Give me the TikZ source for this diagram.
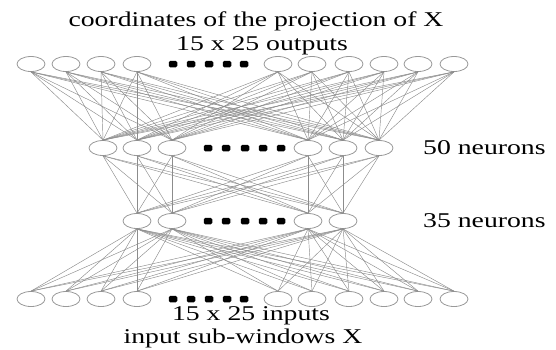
\documentclass[tikz,border=0pt]{standalone}
\usepackage{fontspec}
\setmainfont{Liberation Serif}
\usetikzlibrary{shapes.geometric}
\begin{document}
\begin{tikzpicture}[x=1pt,y=-1pt,
  neuron/.style={ellipse,draw=black!40,line width=0.8pt,minimum width=28pt,minimum height=15pt,inner sep=0pt},
  conn/.style={draw=black!45,line width=0.45pt},
  dotmark/.style={rectangle,rounded corners=1.5pt,fill=black,minimum width=8.5pt,minimum height=6.5pt,inner sep=0pt},
  lbl/.style={font=\fontsize{21}{23}\selectfont,inner sep=0pt,text=black}]
\useasboundingbox (0,0) rectangle (556,349);
% layers
\foreach \x [count=\i] in {31,66,101,137,278,312,349,384,418,454} {
  \node[neuron] (t\i) at (\x,64) {};
  \node[neuron] (b\i) at (\x,299) {};
}
\foreach \x [count=\i] in {103,137,172,308,343,379} {
  \node[neuron] (m\i) at (\x,148) {};
}
\foreach \x [count=\i] in {137,172,308,343} {
  \node[neuron] (n\i) at (\x,221) {};
}
% dots
\foreach \x [count=\i] in {173,191,209,227,244} {
  \node[dotmark] (dt\i) at (\x,64) {};
  \node[dotmark] (db\i) at (\x,299) {};
}
\foreach \x [count=\i] in {208,226,245,263,281} {
  \node[dotmark] (dm\i) at (\x,148) {};
  \node[dotmark] (dn\i) at (\x,221) {};
}
% connections
\foreach \i in {1,...,10} {
  \foreach \j in {1,...,6} {
    \draw[conn] (t\i.south) -- (m\j.north);
  }
  \foreach \j in {1,...,4} {
    \draw[conn] (n\j.south) -- (b\i.north);
  }
}
\foreach \i in {1,...,6} {
  \foreach \j in {1,...,4} {
    \draw[conn] (m\i.south) -- (n\j.north);
  }
}
% labels
\node[lbl] (title) at (256,21) {\scalebox{1.32}[1]{coordinates of the projection of X}};
\node[lbl] (outs) at (262,46) {\scalebox{1.32}[1]{15 x 25 outputs}};
\node[lbl,anchor=west] (l50) at (423,148) {\scalebox{1.32}[1]{50 neurons}};
\node[lbl,anchor=west] (l35) at (423,221) {\scalebox{1.32}[1]{35 neurons}};
\node[lbl] (ins) at (251,316) {\scalebox{1.32}[1]{15 x 25 inputs}};
\node[lbl] (sub) at (243,338) {\scalebox{1.32}[1]{input sub-windows X}};
\end{tikzpicture}
\end{document}
